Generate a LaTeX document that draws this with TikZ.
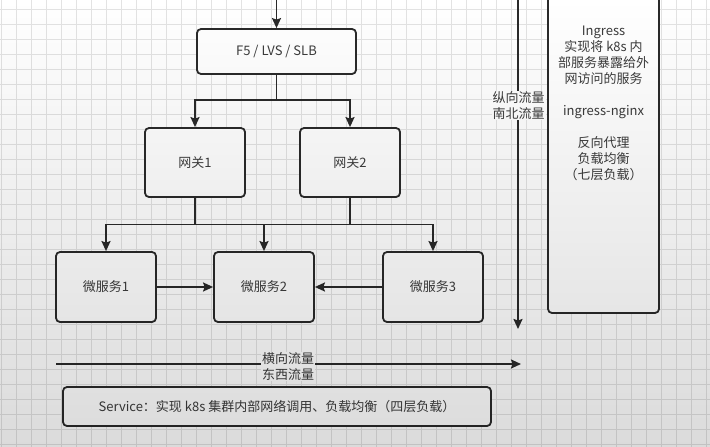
\documentclass[tikz,border=0pt]{standalone}
\usepackage{fontspec}
\setmainfont{Noto Sans CJK SC}
\usetikzlibrary{arrows.meta,fadings}
\definecolor{ln}{HTML}{2A2A2A}
\definecolor{tx}{HTML}{3C3C3C}
\definecolor{gridc}{HTML}{E3E3E3}
\tikzfading[name=fadedown, top color=transparent!100, bottom color=transparent!0]
\begin{document}
\begin{tikzpicture}[x=1pt,y=-1pt,
  txt/.style={text=tx, font=\fontsize{13}{16}\selectfont, align=center},
  box/.style={txt, draw=ln, line width=1.8pt, rounded corners=4pt, fill=white, inner sep=0pt},
  conn/.style={draw=ln, line width=1.8pt},
  arr/.style={conn, -{Stealth[length=10pt,width=9pt,inset=1.5pt]}},
  lbl/.style={txt, fill=white, inner sep=1pt}]
\useasboundingbox (0,0) rectangle (710,447);
\fill[white] (0,0) rectangle (710,447);
\foreach \x in {1.5,16.5,...,710} \draw[gridc, line width=1pt] (\x,0) -- (\x,447);
\foreach \y in {9.3,24.3,...,447} \draw[gridc, line width=1pt] (0,\y) -- (710,\y);

% boxes
\node[box, minimum width=159pt, minimum height=45pt] (f5) at (276.5,51.5) {F5 / LVS / SLB};
\node[box, minimum width=100pt, minimum height=69pt] (gw1) at (195,162.5) {网关1};
\node[box, minimum width=100pt, minimum height=69pt] (gw2) at (350,162.5) {网关2};
\node[box, minimum width=100pt, minimum height=70pt] (ms1) at (106,287) {微服务1};
\node[box, minimum width=100pt, minimum height=70pt] (ms2) at (264,287) {微服务2};
\node[box, minimum width=100pt, minimum height=70pt] (ms3) at (433,287) {微服务3};
\node[box, minimum width=111pt, minimum height=323pt] (ing) at (603.5,151.5) {};
\node[txt] (ingtext) at (603.5,103.5) {Ingress\\实现将 k8s 内\\部服务暴露给外\\网访问的服务\\[16pt]ingress-nginx\\[16pt]反向代理\\负载均衡\\（七层负载）};
\node[box, minimum width=428pt, minimum height=39pt, font=\fontsize{13}{16}\selectfont] (svc) at (277,406.5) {Service：实现 k8s 集群内部网络调用、负载均衡（四层负载）};

% connectors
\coordinate (top) at (276.5,-2);
\coordinate (s1) at (276.5,100);
\coordinate (s2) at (195,224.5);
\coordinate (s3) at (350,224.5);
\draw[arr] (top) -- (f5.north);
\draw[conn] (f5.south) -- (s1);
\draw[arr] (s1) -| (gw1.north);
\draw[arr] (s1) -| (gw2.north);
\draw[conn] (gw1.south) -- (s2);
\draw[conn] (gw2.south) -- (s3);
\draw[arr] (s2) -| (ms1.north);
\draw[arr] (s2) -| (ms2.north);
\draw[conn] (s3) -- (ms2.north |- s3);
\draw[arr] (s3) -| (ms3.north);
\draw[arr] (ms1.east) -- (ms2.west);
\draw[arr] (ms3.west) -- (ms2.east);

% flows
\coordinate (vtop) at (518,-2);
\coordinate (vbot) at (518,329);
\draw[arr] (vtop) -- (vbot);
\node[lbl] (vl) at (518.5,105.5) {纵向流量\\南北流量};
\coordinate (hl) at (56,364);
\coordinate (hr) at (521,364);
\draw[arr] (hl) -- (hr);
\node[lbl] (hlbl) at (288,366.5) {横向流量\\东西流量};

% screen shading
\fill[black, opacity=0.14, path fading=fadedown] (0,0) rectangle (710,447);
\end{tikzpicture}
\end{document}
